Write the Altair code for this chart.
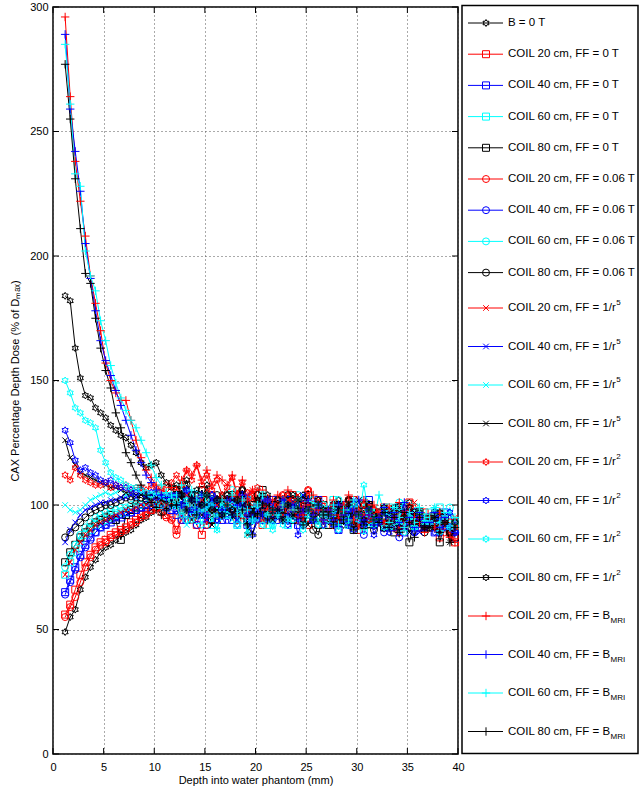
import math
import altair as alt
import pandas as pd

# Depth sampling of the central-axis profiles (mm)
depth_mm = [1.2, 1.7, 2.2, 2.7, 3.2, 3.7, 4.2, 4.7, 5.2, 5.7, 6.2, 6.7, 7.2, 7.7, 8.2, 8.7,
            9.2, 9.7, 10.2, 10.7, 11.2, 11.7, 12.2, 12.7, 13.2, 13.7, 14.2, 14.7, 15.2, 15.7,
            16.2, 16.7, 17.2, 17.7, 18.2, 18.7, 19.2, 19.7, 20.2, 20.7, 21.2, 21.7, 22.2, 22.7,
            23.2, 23.7, 24.2, 24.7, 25.2, 25.7, 26.2, 26.7, 27.2, 27.7, 28.2, 28.7, 29.2, 29.7,
            30.2, 30.7, 31.2, 31.7, 32.2, 32.7, 33.2, 33.7, 34.2, 34.7, 35.2, 35.7, 36.2, 36.7,
            37.2, 37.7, 38.2, 38.7, 39.2, 39.7]

# Percentage depth dose (% of Dmax) for each configuration
b0_tesla = [49, 55, 58, 66, 71, 75, 78, 81, 83, 84, 86, 88, 89, 90, 92, 94, 95, 97, 98, 99, 100, 101,
            102, 106, 100, 104, 98, 102, 108, 100, 96, 104,
            102, 96, 100, 104, 98, 94, 102, 100, 96, 98,
            96, 100, 102, 94, 98, 104, 96, 94, 100, 98,
            94, 98, 102, 92, 96, 100, 94, 98, 92, 96,
            97, 93, 95, 99, 91, 95, 101, 93, 97, 95,
            93, 97, 91, 95, 89, 93]
coil20_ff0 = [56, 60, 66, 72, 77, 80, 83, 85, 86, 88, 89, 90, 91, 93, 94, 96, 97, 98, 99, 100, 96, 95,
              90, 94, 100, 98, 92, 88, 96, 102, 94, 98,
              98, 102, 94, 100, 96, 104, 98, 92, 100, 96,
              98, 94, 100, 104, 96, 98, 92, 100, 96, 102,
              96, 92, 100, 94, 98, 102, 90, 96, 100, 94,
              93, 99, 95, 91, 97, 93, 101, 95, 91, 97,
              91, 95, 87, 93, 89, 85]
coil40_ff0 = [65, 70, 75, 80, 84, 87, 89, 91, 92, 93, 94, 95, 96, 97, 98, 99, 99, 100, 100, 101, 99, 98,
              96, 100, 94, 98, 104, 96, 92, 100, 98, 94,
              100, 94, 98, 102, 92, 96, 100, 94, 98, 102,
              94, 98, 102, 96, 92, 100, 98, 94, 102, 96,
              98, 94, 90, 100, 96, 92, 98, 94, 102, 92,
              95, 91, 97, 93, 99, 89, 95, 97, 91, 93,
              95, 89, 93, 97, 91, 87]
coil60_ff0 = [72, 77, 81, 85, 88, 90, 92, 93, 94, 95, 96, 97, 97, 98, 99, 100, 100, 101, 100, 101, 99, 100,
              100, 96, 104, 98, 94, 102, 98, 92, 100, 96,
              96, 100, 92, 98, 102, 94, 100, 96, 92, 98,
              100, 96, 92, 98, 102, 94, 100, 96, 98, 92,
              98, 102, 94, 96, 92, 100, 96, 90, 98, 94,
              97, 93, 99, 95, 91, 97, 93, 99, 95, 93,
              97, 93, 99, 91, 95, 93]
coil80_ff0 = [77, 81, 84, 87, 89, 91, 93, 94, 95, 96, 94, 86, 96, 98, 99, 100, 100, 101, 101, 102, 100, 101,
              104, 98, 102, 96, 100, 106, 98, 94, 102, 98,
              98, 104, 96, 102, 94, 100, 98, 106, 96, 100,
              96, 102, 98, 94, 100, 96, 104, 98, 92, 100,
              92, 96, 100, 94, 98, 90, 96, 92, 100, 94,
              97, 91, 95, 89, 99, 93, 85, 95, 97, 91,
              91, 95, 85, 93, 89, 87]
coil20_ff006 = [55, 59, 63, 69, 75, 79, 82, 84, 85, 87, 88, 89, 90, 92, 93, 95, 96, 98, 99, 97, 95, 94,
                88, 96, 100, 94, 102, 98, 92, 104, 96, 100,
                102, 98, 106, 96, 100, 104, 94, 98, 102, 96,
                100, 104, 96, 102, 94, 98, 106, 96, 100, 94,
                96, 100, 94, 98, 102, 92, 96, 100, 94, 98,
                95, 99, 93, 97, 89, 95, 99, 91, 97, 93,
                95, 91, 97, 89, 93, 87]
coil40_ff006 = [64, 69, 74, 79, 83, 86, 89, 91, 92, 94, 95, 96, 97, 97, 98, 99, 100, 100, 101, 100, 99, 100,
                98, 94, 102, 96, 92, 100, 98, 104, 94, 98,
                94, 100, 96, 104, 98, 92, 96, 102, 98, 94,
                98, 94, 100, 96, 102, 92, 98, 94, 100, 96,
                94, 98, 90, 96, 92, 100, 94, 88, 96, 92,
                93, 89, 95, 91, 87, 93, 97, 89, 95, 91,
                93, 97, 89, 95, 91, 89]
coil60_ff006 = [75, 80, 84, 88, 91, 93, 95, 96, 97, 98, 98, 99, 99, 100, 101, 100, 101, 102, 101, 100, 101, 100,
                102, 98, 94, 100, 104, 96, 98, 102, 94, 100,
                100, 106, 98, 94, 102, 96, 100, 104, 98, 92,
                98, 102, 96, 100, 104, 94, 98, 102, 96, 100,
                98, 94, 102, 96, 100, 92, 98, 102, 94, 96,
                95, 99, 91, 97, 101, 93, 95, 91, 97, 95,
                95, 91, 97, 93, 99, 91]
coil80_ff006 = [87, 89, 91, 93, 95, 97, 98, 99, 100, 100, 101, 102, 103, 102, 103, 103, 102, 103, 104, 103, 102, 103,
                106, 102, 108, 104, 100, 106, 102, 98, 104, 100,
                104, 98, 102, 106, 100, 96, 104, 102, 98, 100,
                102, 98, 104, 100, 96, 102, 98, 90, 88, 96,
                96, 100, 94, 98, 102, 92, 96, 100, 94, 90,
                95, 91, 97, 93, 99, 95, 91, 97, 93, 89,
                93, 97, 91, 95, 89, 93]
coil20_r5 = [72, 77, 82, 85, 88, 90, 92, 93, 94, 95, 96, 97, 98, 98, 99, 100, 100, 101, 102, 101, 100, 101,
             102, 98, 104, 100, 96, 102, 106, 98, 100, 96,
             100, 104, 96, 102, 98, 106, 100, 94, 102, 98,
             100, 96, 102, 98, 104, 94, 100, 96, 102, 98,
             98, 94, 100, 96, 102, 98, 92, 96, 100, 94,
             97, 93, 99, 95, 91, 97, 93, 101, 95, 91,
             95, 91, 97, 93, 89, 95]
coil40_r5 = [85, 90, 93, 96, 98, 99, 100, 101, 101, 102, 102, 103, 103, 104, 103, 104, 103, 104, 103, 104, 103, 102,
             100, 104, 98, 102, 96, 100, 94, 102, 98, 96,
             98, 102, 94, 100, 104, 96, 98, 102, 94, 100,
             98, 102, 94, 100, 96, 104, 98, 94, 100, 96,
             96, 100, 92, 98, 94, 102, 96, 92, 98, 94,
             95, 91, 97, 93, 99, 91, 95, 97, 89, 93,
             93, 97, 91, 95, 91, 93]
coil60_r5 = [100, 98, 97, 98, 100, 102, 103, 104, 105, 104, 105, 106, 104, 105, 106, 105, 104, 105, 104, 103, 104, 103,
             102, 98, 92, 100, 96, 104, 98, 94, 90, 100,
             98, 94, 102, 96, 90, 100, 94, 98, 102, 92,
             96, 100, 94, 98, 102, 92, 96, 100, 94, 98,
             96, 92, 100, 94, 98, 90, 96, 100, 92, 98,
             95, 99, 91, 97, 93, 101, 95, 91, 97, 93,
             93, 99, 91, 95, 97, 91]
coil80_r5 = [126, 119, 116, 113, 112, 111, 110, 109, 108, 107, 107, 106, 105, 105, 104, 104, 103, 104, 103, 102, 103, 102,
             100, 104, 98, 94, 102, 96, 100, 92, 98, 102,
             98, 102, 96, 100, 88, 98, 102, 96, 100, 94,
             98, 94, 100, 96, 102, 98, 92, 100, 96, 98,
             96, 100, 94, 98, 92, 96, 102, 94, 98, 92,
             95, 91, 97, 93, 99, 95, 89, 97, 93, 91,
             91, 95, 89, 93, 85, 91]
coil20_r2 = [112, 110, 115, 112, 110, 109, 108, 108, 109, 107, 108, 107, 108, 106, 107, 107, 106, 108, 107, 106, 108, 109,
             112, 108, 114, 110, 116, 108, 112, 106, 110, 104,
             107, 111, 103, 109, 105, 101, 107, 99, 103, 97,
             100, 104, 98, 102, 96, 100, 106, 98, 102, 96,
             96, 100, 94, 98, 102, 92, 96, 100, 94, 98,
             95, 99, 93, 97, 91, 95, 99, 93, 97, 91,
             93, 97, 91, 95, 89, 91]
coil40_r2 = [130, 125, 118, 114, 115, 113, 112, 110, 109, 110, 108, 107, 107, 106, 105, 106, 104, 105, 103, 104, 103, 104,
             104, 100, 106, 98, 102, 96, 100, 104, 94, 98,
             98, 102, 92, 100, 96, 88, 94, 98, 102, 96,
             96, 100, 92, 98, 88, 96, 100, 94, 98, 92,
             96, 92, 100, 94, 98, 90, 96, 92, 98, 88,
             93, 97, 89, 95, 91, 99, 93, 89, 95, 91,
             93, 89, 95, 91, 97, 89]
coil60_r2 = [150, 145, 139, 137, 134, 133, 131, 122, 117, 113, 111, 110, 108, 107, 107, 106, 105, 104, 105, 104, 103, 102,
             100, 96, 102, 94, 98, 92, 100, 96, 90, 98,
             96, 100, 92, 98, 88, 94, 100, 92, 96, 90,
             96, 92, 100, 94, 98, 90, 96, 100, 92, 96,
             94, 98, 90, 96, 92, 100, 94, 108, 96, 92,
             95, 91, 97, 93, 99, 89, 95, 91, 97, 93,
             93, 97, 89, 95, 91, 93]
coil80_r2 = [184, 182, 163, 151, 144, 143, 139, 137, 135, 132, 130, 128, 127, 124, 121, 117, 115, 116, 117, 112, 109, 107,
             108, 104, 110, 102, 106, 100, 104, 98, 102, 96,
             104, 98, 102, 106, 100, 96, 102, 98, 104, 96,
             102, 96, 100, 104, 98, 94, 100, 96, 102, 98,
             98, 94, 100, 96, 102, 92, 98, 94, 100, 96,
             95, 99, 93, 97, 91, 95, 99, 93, 97, 91,
             95, 91, 97, 93, 89, 93]
coil20_mri = [296, 264, 238, 222, 208, 192, 181, 170, 157, 150, 145, 142, 142, 134, 126, 119, 114, 111, 108, 106, 105, 107,
              106, 110, 114, 112, 116, 110, 114, 108, 112, 110,
              108, 112, 104, 110, 102, 106, 100, 106, 98, 102,
              104, 100, 106, 98, 102, 96, 100, 104, 98, 94,
              98, 102, 96, 100, 104, 94, 98, 102, 96, 100,
              97, 93, 99, 95, 101, 91, 97, 95, 93, 89,
              95, 91, 97, 93, 87, 85]
coil40_mri = [289, 259, 242, 226, 205, 191, 178, 166, 158, 152, 146, 140, 134, 128, 122, 117, 112, 109, 106, 104, 103, 104,
              104, 100, 106, 102, 98, 104, 96, 100, 102, 98,
              102, 96, 100, 104, 98, 94, 100, 96, 102, 98,
              98, 102, 96, 100, 94, 98, 102, 96, 100, 94,
              98, 94, 100, 96, 92, 98, 102, 94, 96, 92,
              95, 99, 91, 97, 93, 101, 95, 91, 97, 93,
              93, 97, 91, 95, 91, 89]
coil60_mri = [285, 261, 233, 228, 202, 192, 186, 174, 166, 156, 149, 143, 138, 134, 131, 126, 121, 116, 111, 108, 105, 104,
              104, 108, 100, 106, 102, 98, 104, 100, 96, 102,
              100, 104, 96, 102, 98, 94, 100, 104, 96, 98,
              96, 100, 94, 98, 102, 92, 98, 94, 100, 96,
              96, 100, 92, 98, 94, 102, 96, 90, 98, 94,
              104, 97, 93, 99, 95, 91, 97, 93, 99, 95,
              95, 99, 93, 97, 91, 95]
coil80_mri = [277, 255, 231, 211, 193, 189, 175, 163, 154, 147, 137, 131, 121, 117, 112, 108, 104, 101, 99, 96, 98, 100,
              100, 104, 98, 102, 96, 100, 104, 98, 102, 96,
              100, 96, 102, 98, 92, 88, 96, 100, 94, 98,
              98, 94, 100, 96, 102, 92, 98, 94, 100, 96,
              96, 92, 98, 94, 100, 90, 96, 92, 98, 94,
              93, 97, 91, 95, 89, 97, 93, 87, 95, 91,
              91, 95, 89, 93, 85, 91]

# Legend entries: main label, superscript / subscript part
legend_main = ["B = 0 T",
               "COIL 20 cm, FF = 0 T", "COIL 40 cm, FF = 0 T", "COIL 60 cm, FF = 0 T", "COIL 80 cm, FF = 0 T",
               "COIL 20 cm, FF = 0.06 T", "COIL 40 cm, FF = 0.06 T", "COIL 60 cm, FF = 0.06 T", "COIL 80 cm, FF = 0.06 T",
               "COIL 20 cm, FF = 1/r", "COIL 40 cm, FF = 1/r", "COIL 60 cm, FF = 1/r", "COIL 80 cm, FF = 1/r",
               "COIL 20 cm, FF = 1/r", "COIL 40 cm, FF = 1/r", "COIL 60 cm, FF = 1/r", "COIL 80 cm, FF = 1/r",
               "COIL 20 cm, FF = B", "COIL 40 cm, FF = B", "COIL 60 cm, FF = B", "COIL 80 cm, FF = B"]
legend_sup = [""] * 9 + ["5"] * 4 + ["2"] * 4 + [""] * 4
legend_sub = [""] * 17 + ["MRI"] * 4

x_ticks = [0, 5, 10, 15, 20, 25, 30, 35, 40]
y_ticks = [0, 50, 100, 150, 200, 250, 300]

profiles = [b0_tesla, coil20_ff0, coil40_ff0, coil60_ff0, coil80_ff0,
            coil20_ff006, coil40_ff006, coil60_ff006, coil80_ff006,
            coil20_r5, coil40_r5, coil60_r5, coil80_r5,
            coil20_r2, coil40_r2, coil60_r2, coil80_r2,
            coil20_mri, coil40_mri, coil60_mri, coil80_mri]

BLACK, RED, BLUE, CYAN = "#000000", "#ff0000", "#0000ff", "#00ffff"
colors = [BLACK] + [RED, BLUE, CYAN, BLACK] * 5


def hexagram_path():
    pts = []
    for k in range(12):
        ang = math.radians(90 - 30 * k)
        r = 1.0 if k % 2 == 0 else 1.0 / math.sqrt(3)
        pts.append(f"{r * math.cos(ang):.3f},{-r * math.sin(ang):.3f}")
    return "M" + "L".join(pts) + "Z"


HEX = hexagram_path()
PLUS = "M-1.2,0L1.2,0M0,-1.2L0,1.2"
CROSS = "M-0.8,-0.8L0.8,0.8M-0.8,0.8L0.8,-0.8"
shapes = [HEX] + ["square"] * 4 + ["circle"] * 4 + [CROSS] * 4 + [HEX] * 4 + [PLUS] * 4

keys = [m + (("^" + s) if s else "") + (("_" + b) if b else "")
        for m, s, b in zip(legend_main, legend_sup, legend_sub)]

rows = []
for idx, (key, vals) in enumerate(zip(keys, profiles)):
    for d, v in zip(depth_mm, vals):
        rows.append({"series": key, "idx": idx, "depth": d, "dose": v})
df = pd.DataFrame(rows)

W, H = 405, 747
FONT = "Liberation Sans"
FS = 11.5

# legend layout (pixels relative to the plot origin)
BOX_L, BOX_R, BOX_T, BOX_B = 409, 585, -1.5, 746.5
LINE_L, LINE_R, MARK_X, TEXT_X = 415, 450, 433, 455
row_y = [16 + 31.2 * i if i < 9 else 301 + 38.5 * (i - 9) for i in range(len(keys))]
leg = pd.DataFrame({"series": keys, "ly": row_y, "label": legend_main,
                    "sup": legend_sup, "sub": legend_sub})
sup_df = leg[leg["sup"] != ""]
sub_df = leg[leg["sub"] != ""]
SUP_X = TEXT_X + 9.42 * FS
SUB_X = TEXT_X + 8.92 * FS

x_scale = alt.Scale(domain=[0, 40], nice=False, zero=False)
y_scale = alt.Scale(domain=[0, 300], nice=False, zero=False)
ly_scale = alt.Scale(domain=[0, H], range=[0, H])
color_scale = alt.Scale(domain=keys, range=colors)
shape_scale = alt.Scale(domain=keys, range=shapes)

x_axis = alt.Axis(values=x_ticks, title="Depth into water phantom (mm)", format="d", labelFlush=False)
y_axis = alt.Axis(values=y_ticks, title="CAX Percentage Depth Dose (% of Dₘₐₓ)", format="d")

lines = alt.Chart(df).mark_line(strokeWidth=1).encode(
    x=alt.X("depth:Q", scale=x_scale, axis=x_axis),
    y=alt.Y("dose:Q", scale=y_scale, axis=y_axis),
    color=alt.Color("series:N", scale=color_scale, legend=None),
)

points = alt.Chart(df).mark_point(filled=False, size=49, strokeWidth=1, opacity=1).encode(
    x=alt.X("depth:Q", scale=x_scale, axis=x_axis),
    y=alt.Y("dose:Q", scale=y_scale, axis=None),
    color=alt.Color("series:N", scale=color_scale, legend=None),
    shape=alt.Shape("series:N", scale=shape_scale, legend=None),
    order=alt.Order("idx:Q"),
)

xt = pd.DataFrame({"t": x_ticks})
yt = pd.DataFrame({"t": y_ticks})
tick_style = dict(color="black", strokeWidth=1)
xticks_bottom = alt.Chart(xt).mark_rule(**tick_style).encode(
    x=alt.X("t:Q", scale=x_scale, axis=x_axis), y=alt.value(H), y2=alt.value(H - 6))
xticks_top = alt.Chart(xt).mark_rule(**tick_style).encode(
    x=alt.X("t:Q", scale=x_scale, axis=x_axis), y=alt.value(0), y2=alt.value(6))
yticks_left = alt.Chart(yt).mark_rule(**tick_style).encode(
    y=alt.Y("t:Q", scale=y_scale, axis=None), x=alt.value(0), x2=alt.value(6))
yticks_right = alt.Chart(yt).mark_rule(**tick_style).encode(
    y=alt.Y("t:Q", scale=y_scale, axis=None), x=alt.value(W), x2=alt.value(W - 6))

legend_box = alt.Chart(pd.DataFrame({"a": [0]})).mark_rect(
    fill="white", stroke="black", strokeWidth=1.5).encode(
    x=alt.value(BOX_L), x2=alt.value(BOX_R), y=alt.value(BOX_T), y2=alt.value(BOX_B))

leg_y = alt.Y("ly:Q", scale=ly_scale, axis=None)
legend_lines = alt.Chart(leg).mark_rule(strokeWidth=1).encode(
    x=alt.value(LINE_L), x2=alt.value(LINE_R), y=leg_y,
    color=alt.Color("series:N", scale=color_scale, legend=None))
legend_marks = alt.Chart(leg).mark_point(filled=False, size=49, strokeWidth=1, opacity=1).encode(
    x=alt.value(MARK_X), y=leg_y,
    color=alt.Color("series:N", scale=color_scale, legend=None),
    shape=alt.Shape("series:N", scale=shape_scale, legend=None))
legend_text = alt.Chart(leg).mark_text(
    align="left", baseline="middle", font=FONT, fontSize=FS, color="black").encode(
    x=alt.value(TEXT_X), y=leg_y, text="label:N")
legend_sup = alt.Chart(sup_df).mark_text(
    align="left", baseline="middle", font=FONT, fontSize=8, color="black", dy=-5).encode(
    x=alt.value(SUP_X), y=leg_y, text="sup:N")
legend_sub = alt.Chart(sub_df).mark_text(
    align="left", baseline="middle", font=FONT, fontSize=8, color="black", dy=5).encode(
    x=alt.value(SUB_X), y=leg_y, text="sub:N")

chart = alt.layer(
    lines, points, xticks_bottom, xticks_top, yticks_left, yticks_right,
    legend_box, legend_lines, legend_marks, legend_text, legend_sup, legend_sub,
).resolve_scale(y="independent").properties(
    width=W, height=H,
    padding={"left": 53, "top": 7, "right": 640 - 53 - W, "bottom": 793 - 7 - H},
    autosize=alt.AutoSizeParams(type="none"),
).configure_view(
    stroke="black", strokeWidth=1.5
).configure_axis(
    labelFont=FONT, labelFontSize=11, labelColor="black",
    titleFont=FONT, titleFontSize=11, titleFontWeight="normal", titleColor="black",
    domain=False, ticks=False, grid=True, gridColor="#555555", gridDash=[1, 3],
    gridWidth=1, gridOpacity=1,
).configure_axisX(
    labelPadding=7, titlePadding=2,
).configure_axisY(
    labelPadding=5, titlePadding=9,
)

chart.save("out.html", embed_options={"renderer": "svg", "actions": False})
